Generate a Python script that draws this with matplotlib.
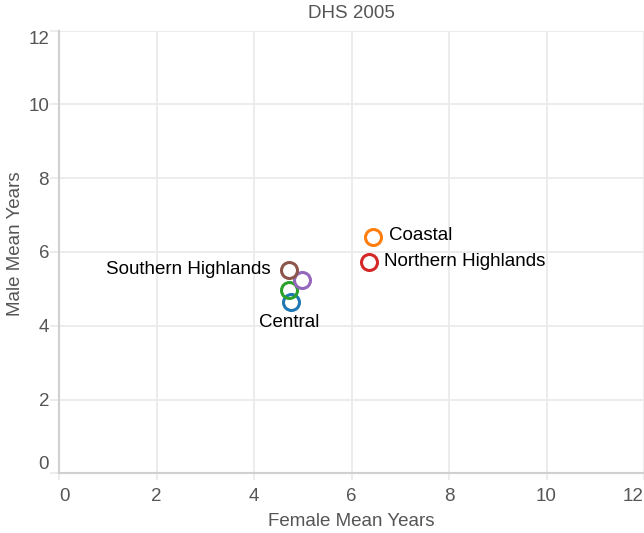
import matplotlib
matplotlib.use("Agg")
import matplotlib.pyplot as plt

# ---- data ----
regions = ["Central", "Coastal", "Region 3", "Northern Highlands", "Region 5", "Southern Highlands"]
female_mean_years = [4.76, 6.44, 4.72, 6.35, 4.98, 4.72]
male_mean_years = [4.65, 6.42, 4.98, 5.72, 5.24, 5.51]
shown_labels = ["Central", "Coastal", "", "Northern Highlands", "", "Southern Highlands"]
colors = ["#1f77b4", "#ff7f0e", "#2ca02c", "#d62728", "#9467bd", "#8c564b"]
x_ticks = [0, 2, 4, 6, 8, 10, 12]
y_ticks = [0, 2, 4, 6, 8, 10, 12]
title = "DHS 2005"
x_title = "Female Mean Years"
y_title = "Male Mean Years"

# label placement: (dx px, dy px, ha, va)
label_pos = {
    "Central": (-2, -20.5, "center", "center"),
    "Coastal": (16, 1.5, "left", "center"),
    "Northern Highlands": (15, 0.5, "left", "center"),
    "Southern Highlands": (-18, 1, "right", "center"),
}

W, H = 644, 533
DPI = 100
PX = 72.0 / DPI  # points per pixel

plt.rcParams["font.family"] = ["Liberation Sans", "DejaVu Sans"]
FS = 13.5
TXT_GRAY = "#555555"
GRID = "#ebebeb"
DOMAIN = "#d0d0d0"

fig = plt.figure(figsize=(W / DPI, H / DPI), dpi=DPI)
ax_l, ax_r, ax_t, ax_b = 59, 644, 30.7, 473.3
ax = fig.add_axes([ax_l / W, 1 - ax_b / H, (ax_r - ax_l) / W, (ax_b - ax_t) / H])

ax.set_xlim(0, 12)
ax.set_ylim(0, 12)
ax.set_xticks(x_ticks)
ax.set_yticks(y_ticks)
ax.set_xticklabels([str(t) for t in x_ticks])
ax.set_yticklabels([str(t) for t in y_ticks])

ax.grid(True, color=GRID, linewidth=1.3)
ax.set_axisbelow(True)
for s in ["top", "right"]:
    ax.spines[s].set_visible(False)
for s in ["left", "bottom"]:
    ax.spines[s].set_color(DOMAIN)
    ax.spines[s].set_linewidth(1.5)

ax.tick_params(axis="x", length=7 * PX, width=1.3, color=GRID, pad=8 * PX,
               labelsize=FS, labelcolor=TXT_GRAY)
ax.tick_params(axis="y", length=9 * PX, width=1.3, color=GRID, pad=1 * PX,
               labelsize=FS, labelcolor=TXT_GRAY)

xl = ax.get_xticklabels()
xl[0].set_ha("left")
xl[-1].set_ha("right")
yl = ax.get_yticklabels()
for lab in yl:
    lab.set_va("center_baseline")
yl[0].set_va("bottom")
yl[-1].set_va("top")

for xv, yv, c in zip(female_mean_years, male_mean_years, colors):
    ax.plot([xv], [yv], marker="o", linestyle="none", markersize=11.5,
            markerfacecolor="none", markeredgecolor=c, markeredgewidth=2.2,
            clip_on=False, zorder=3)

for xv, yv, lab in zip(female_mean_years, male_mean_years, shown_labels):
    if not lab:
        continue
    dx, dy, ha, va = label_pos[lab]
    ax.annotate(lab, (xv, yv), xytext=(dx * PX, dy * PX), textcoords="offset points",
                ha=ha, va=va, fontsize=FS, color="#000000", zorder=4)

cx = (ax_l + ax_r) / 2
fig.text(cx / W, 1 - 13 / H, title, ha="center", va="center", fontsize=FS, color=TXT_GRAY)
fig.text(cx / W, 1 - 521 / H, x_title, ha="center", va="center", fontsize=FS, color=TXT_GRAY)
fig.text(16 / W, 1 - 244 / H, y_title, ha="center", va="center", rotation=90,
         fontsize=FS, color=TXT_GRAY)

fig.savefig("out.png", dpi=DPI)
